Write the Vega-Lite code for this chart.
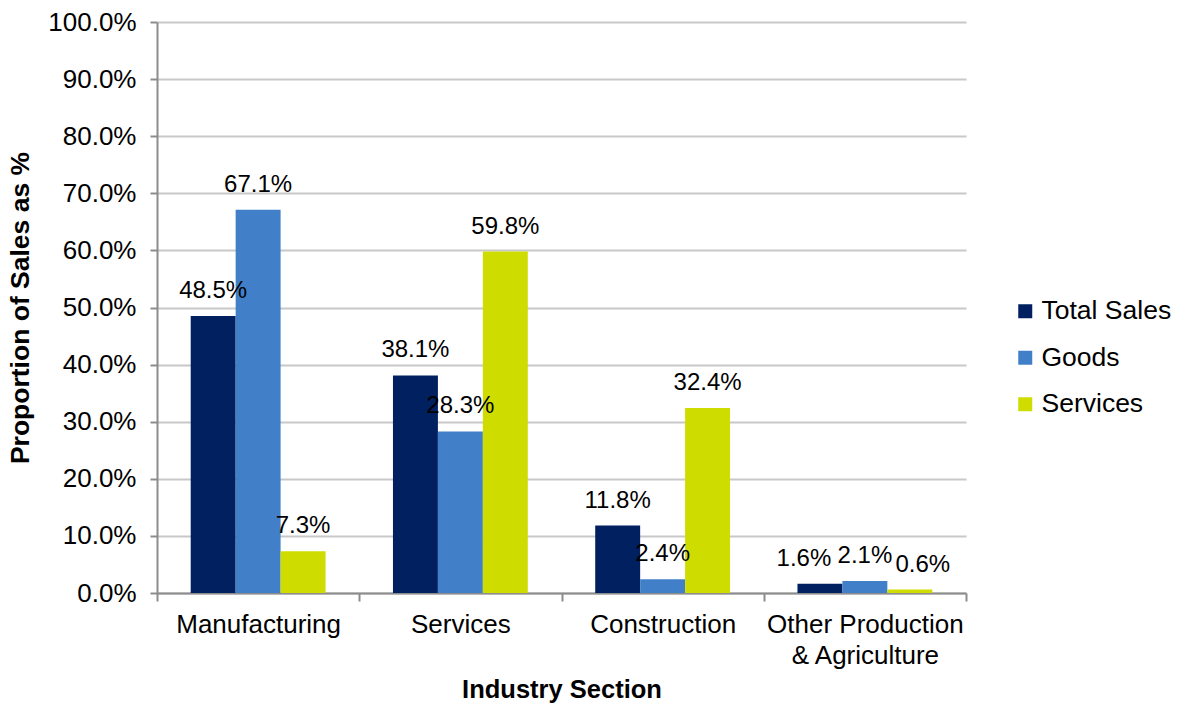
{
  "$schema": "https://vega.github.io/schema/vega-lite/v6.json",
  "width": 809,
  "height": 571,
  "autosize": {"type": "none"},
  "padding": {"left": 157, "top": 22, "right": 212, "bottom": 112},
  "config": {"font": "Liberation Sans", "view": {"stroke": null}},
  "data": {
    "values": [
      {"industry": "Manufacturing", "series": "Total Sales", "value": 0.485},
      {"industry": "Manufacturing", "series": "Goods", "value": 0.671},
      {"industry": "Manufacturing", "series": "Services", "value": 0.073},
      {"industry": "Services", "series": "Total Sales", "value": 0.381},
      {"industry": "Services", "series": "Goods", "value": 0.283},
      {"industry": "Services", "series": "Services", "value": 0.598},
      {"industry": "Construction", "series": "Total Sales", "value": 0.118},
      {"industry": "Construction", "series": "Goods", "value": 0.024},
      {"industry": "Construction", "series": "Services", "value": 0.324},
      {"industry": "Other Production & Agriculture", "series": "Total Sales", "value": 0.016},
      {"industry": "Other Production & Agriculture", "series": "Goods", "value": 0.021},
      {"industry": "Other Production & Agriculture", "series": "Services", "value": 0.006}
    ]
  },
  "encoding": {
    "x": {
      "field": "industry",
      "type": "nominal",
      "sort": ["Manufacturing", "Services", "Construction", "Other Production & Agriculture"],
      "scale": {"paddingInner": 0, "paddingOuter": 0},
      "axis": {
        "title": "Industry Section",
        "titleFontSize": 25.5,
        "titleFontWeight": "bold",
        "titleColor": "black",
        "titlePadding": 9,
        "labelFontSize": 26,
        "labelColor": "black",
        "labelAngle": 0,
        "labelPadding": 10,
        "labelLineHeight": 31,
        "labelBaseline": "top",
        "labelLimit": 0,
        "labelExpr": "datum.value == 'Other Production & Agriculture' ? ['Other Production', '& Agriculture'] : datum.value",
        "tickBand": "extent",
        "tickSize": 8,
        "tickColor": "#8C8C8C",
        "tickWidth": 2,
        "domainColor": "#8C8C8C",
        "domainWidth": 2,
        "grid": false
      }
    },
    "xOffset": {
      "field": "series",
      "sort": ["Total Sales", "Goods", "Services"],
      "scale": {"paddingInner": 0, "paddingOuter": 0.75}
    },
    "y": {
      "field": "value",
      "type": "quantitative",
      "scale": {"domain": [0, 1]},
      "axis": {
        "title": "Proportion of Sales as %",
        "titleFontSize": 26.5,
        "titleFontWeight": "bold",
        "titleColor": "black",
        "titlePadding": 13,
        "values": [0, 0.1, 0.2, 0.3, 0.4, 0.5, 0.6, 0.7, 0.8, 0.9, 1.0],
        "format": ".1%",
        "labelFontSize": 26,
        "labelColor": "black",
        "labelPadding": 14,
        "tickSize": 7,
        "tickColor": "#8C8C8C",
        "tickWidth": 2,
        "domainColor": "#8C8C8C",
        "domainWidth": 2,
        "gridColor": "#C8C8C8",
        "gridWidth": 2
      }
    }
  },
  "layer": [
    {
      "mark": {"type": "bar"},
      "encoding": {
        "color": {
          "field": "series",
          "type": "nominal",
          "sort": ["Total Sales", "Goods", "Services"],
          "scale": {"domain": ["Total Sales", "Goods", "Services"], "range": ["#002060", "#4180C8", "#CFDC00"]},
          "legend": {
            "title": null,
            "orient": "none",
            "legendX": 855,
            "legendY": 276,
            "symbolType": "square",
            "symbolSize": 196,
            "symbolStrokeWidth": 0,
            "labelFontSize": 26.5,
            "labelColor": "black",
            "labelOffset": 3,
            "rowPadding": 19.5
          }
        }
      }
    },
    {
      "mark": {
        "type": "text",
        "dy": -18,
        "baseline": "alphabetic",
        "fontSize": 24,
        "color": "black",
        "dx": {"expr": "datum.industry == 'Other Production & Agriculture' ? (datum.series == 'Total Sales' ? -16 : (datum.series == 'Services' ? 13 : 0)) : 0"}
      },
      "encoding": {
        "text": {"field": "value", "type": "quantitative", "format": ".1%"}
      }
    }
  ]
}
